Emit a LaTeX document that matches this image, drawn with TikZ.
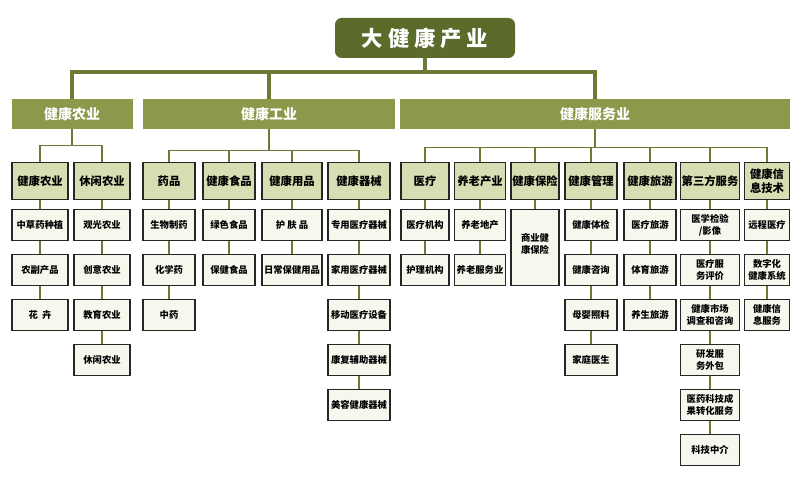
\documentclass[tikz,border=0pt]{standalone}
\usepackage{fontspec}
\setmainfont{Noto Sans CJK SC}
\usetikzlibrary{backgrounds}
\definecolor{topgreen}{HTML}{5A6B2A}
\definecolor{olive}{HTML}{8A9A4A}
\definecolor{linegreen}{HTML}{6B7A35}
\definecolor{subfill}{HTML}{D8DEB4}
\definecolor{leaffill}{HTML}{F7F7EE}
\begin{document}
\begin{tikzpicture}[
    x=0.75pt, y=-0.75pt,
    topbox/.style={rectangle, rounded corners=5pt, fill=topgreen, text=white, font=\bfseries\fontsize{16}{18}\selectfont, minimum width=135pt, minimum height=30pt},
    sector/.style={rectangle, fill=olive, text=white, font=\bfseries\fontsize{10.5}{12}\selectfont, minimum height=22.5pt},
    group/.style={rectangle, draw=black!85, line width=1pt, fill=subfill, font=\bfseries\fontsize{8.5}{10}\selectfont, align=center, inner sep=0.5pt, minimum height=27.75pt},
    leaf/.style={rectangle, draw=black!85, line width=1pt, fill=leaffill, font=\bfseries\fontsize{7}{9}\selectfont, align=center, inner sep=0.5pt, minimum height=23.25pt},
    trunk/.style={draw=linegreen, line width=3pt},
    branch/.style={draw=linegreen, line width=1.8pt},
    stem/.style={draw=linegreen, line width=1pt}
]
\useasboundingbox (0,0) rectangle (800,481);

% Top and sectors
\node[topbox] (top) at (425,38) {大 健 康 产 业};
\node[sector, minimum width=90.75pt] (agri) at (72,114) {健康农业};
\node[sector, minimum width=189pt] (ind) at (269,114) {健康工业};
\node[sector, minimum width=292.5pt] (serv) at (595,114) {健康服务业};

% Groups
\node[group, minimum width=42pt] (a1) at (40,181) {健康农业};
\node[group, minimum width=42pt] (a2) at (102,181) {休闲农业};
\node[group, minimum width=39pt] (i1) at (169,181) {药品};
\node[group, minimum width=39pt] (i2) at (229,181) {健康食品};
\node[group, minimum width=45pt] (i3) at (292,181) {健康用品};
\node[group, minimum width=46.5pt] (i4) at (359,181) {健康器械};
\node[group, minimum width=36pt] (s1) at (425,181) {医疗};
\node[group, minimum width=38pt] (s2) at (480,181) {养老产业};
\node[group, minimum width=36pt] (s3) at (535,181) {健康保险};
\node[group, minimum width=39pt] (s4) at (591,181) {健康管理};
\node[group, minimum width=39pt] (s5) at (650,181) {健康旅游};
\node[group, minimum width=44pt] (s6) at (710,181) {第三方服务};
\node[group, minimum width=34pt] (s7) at (767,181) {健康信\\息技术};

% Leaves
\foreach \t [count=\k] in {中草药种植,农副产品,花\ \ 卉}
  \node[leaf, minimum width=42pt] (a1-\k) at (40,180+45*\k) {\t};
\foreach \t [count=\k] in {观光农业,创意农业,教育农业,休闲农业}
  \node[leaf, minimum width=42pt] (a2-\k) at (102,180+45*\k) {\t};
\foreach \t [count=\k] in {生物制药,化学药,中药}
  \node[leaf, minimum width=39pt] (i1-\k) at (169,180+45*\k) {\t};
\foreach \t [count=\k] in {绿色食品,保健食品}
  \node[leaf, minimum width=39pt] (i2-\k) at (229,180+45*\k) {\t};
\foreach \t [count=\k] in {护\ 肤\ 品,日常保健用品}
  \node[leaf, minimum width=45pt] (i3-\k) at (292,180+45*\k) {\t};
\foreach \t [count=\k] in {专用医疗器械,家用医疗器械,移动医疗设备,康复辅助器械,美容健康器械}
  \node[leaf, minimum width=46.5pt] (i4-\k) at (359,180+45*\k) {\t};
\foreach \t [count=\k] in {医疗机构,护理机构}
  \node[leaf, minimum width=36pt] (s1-\k) at (425,180+45*\k) {\t};
\foreach \t [count=\k] in {养老地产,养老服务业}
  \node[leaf, minimum width=38pt] (s2-\k) at (480,180+45*\k) {\t};
\node[leaf, minimum width=36pt, minimum height=57pt, anchor=north] (s3-1) at (535,209) {\\[-8pt]商业健\\康保险};
\foreach \t [count=\k] in {健康体检,健康咨询,母婴照料,家庭医生}
  \node[leaf, minimum width=39pt] (s4-\k) at (591,180+45*\k) {\t};
\foreach \t [count=\k] in {医疗旅游,体育旅游,养生旅游}
  \node[leaf, minimum width=39pt] (s5-\k) at (650,180+45*\k) {\t};
\foreach \t [count=\k] in {{医学检验\\/影像},{医疗服\\务评价},{健康市场\\调查和咨询},{研发服\\务外包},{医药科技成\\果转化服务},科技中介}
  \node[leaf, minimum width=44pt] (s6-\k) at (710,180+45*\k) {\t};
\foreach \t [count=\k] in {远程医疗,{数字化\\健康系统},{健康信\\息服务}}
  \node[leaf, minimum width=34pt] (s7-\k) at (767,180+45*\k) {\t};

% Connectors
\begin{pgfonlayer}{background}
\draw[trunk] (top.south) -- (top.south |- 0,72);
\draw[trunk] (agri.north) -- ++(0,-27) -| (serv.north);
\draw[trunk] (ind.north) -- (ind.north |- 0,72);
\draw[branch] (agri.south) -- ++(0,16) coordinate (ab);
\draw[stem] (a1.north) |- (ab) -| (a2.north);
\draw[stem] (ind.south) -- ++(0,21) coordinate (ib);
\draw[stem] (i1.north) |- (ib) -| (i4.north);
\foreach \c in {i2,i3} \draw[stem] (\c.north) -- (\c.north |- ib);
\draw[stem] (serv.south) -- ++(0,18) coordinate (sb);
\draw[stem] (s1.north) |- (sb) -| (s7.north);
\foreach \c in {s2,s3,s4,s5,s6} \draw[stem] (\c.north) -- (\c.north |- sb);
\foreach \c/\n in {a1/3,a2/4,i1/3,i2/2,i3/2,i4/5,s1/2,s2/2,s3/1,s4/4,s5/3,s6/6,s7/3}
  \draw[stem] (\c) -- (\c-\n);
\end{pgfonlayer}
\end{tikzpicture}
\end{document}
